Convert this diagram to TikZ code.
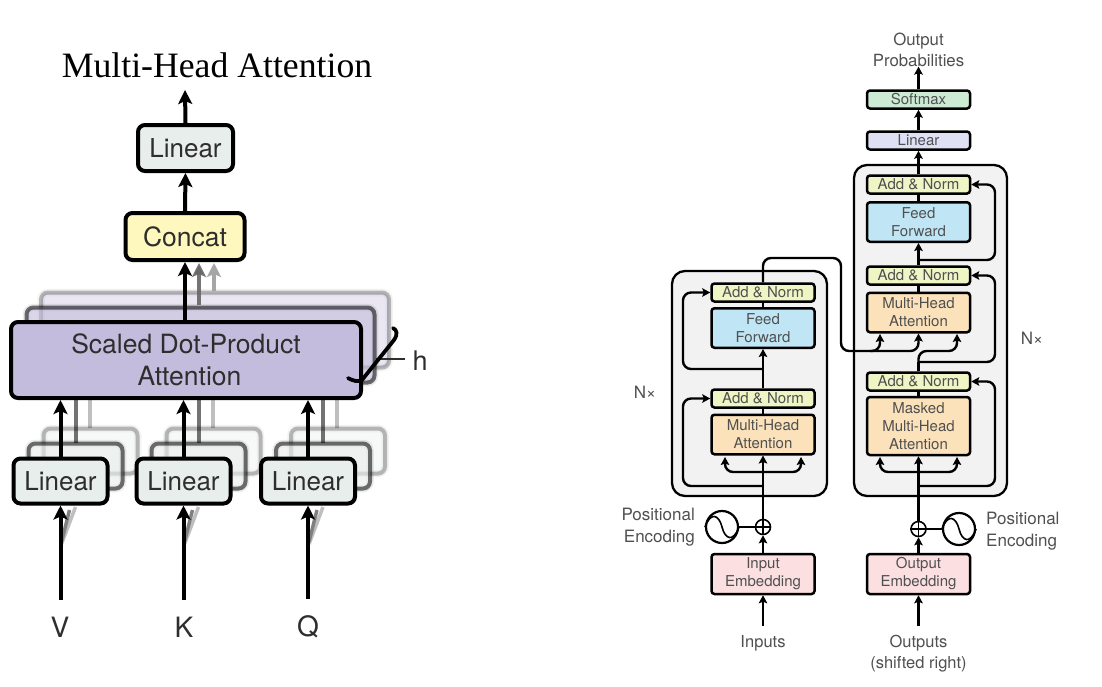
\documentclass[tikz,border=0pt]{standalone}
\usepackage{fontspec}
\setmainfont{TeX Gyre Heros}
\newfontfamily\titlefont{Liberation Serif}
\usetikzlibrary{arrows.meta}
\definecolor{txtL}{HTML}{2E2E2E}
\definecolor{txtR}{HTML}{505050}
\definecolor{cLin}{HTML}{E8EEEC}
\definecolor{cCon}{HTML}{FFF8BE}
\definecolor{cSdp}{HTML}{C4BCDC}
\definecolor{cAdd}{HTML}{F0F5C6}
\definecolor{cFF}{HTML}{C0E6F6}
\definecolor{cMH}{HTML}{FBE2BB}
\definecolor{cEmb}{HTML}{FBDFE1}
\definecolor{cSoft}{HTML}{CDEBD4}
\definecolor{cLinR}{HTML}{DFE0F3}
\definecolor{cBlock}{HTML}{F2F2F2}
\tikzset{
  lbox/.style={draw=black,line width=4pt,rounded corners=7pt,inner sep=0pt,text=txtL,align=center},
  linbox/.style={lbox,fill=cLin,minimum width=94pt,minimum height=45pt,font=\fontsize{26}{30}\selectfont},
  shad/.style={draw=black,rounded corners=7pt,line width=4pt,inner sep=0pt},
  mid/.style={shad,draw opacity=.55,fill opacity=.6,preaction={draw=black,line width=7.5pt,draw opacity=.08,fill opacity=0}},
  far/.style={shad,draw opacity=.25,fill opacity=.35,preaction={draw=black,line width=7.5pt,draw opacity=.05,fill opacity=0}},
  larrow/.style={line width=4pt,-{Stealth[length=14pt,width=14pt,inset=3pt]}},
  rbox/.style={draw=black,line width=2.5pt,rounded corners=3pt,inner sep=0pt,text=txtR,align=center,minimum width=103pt,
     font=\fontsize{15}{18}\selectfont},
  addbox/.style={rbox,fill=cAdd,minimum height=18pt},
  ffbox/.style={rbox,fill=cFF,minimum height=39.5pt},
  mhbox/.style={rbox,fill=cMH,minimum height=39.5pt},
  embbox/.style={rbox,fill=cEmb,minimum height=40pt},
  block/.style={draw=black,line width=2.3pt,fill=cBlock,rounded corners=13pt,inner sep=0pt},
  rline/.style={line width=2.4pt,rounded corners=8pt},
  rarrow/.style={rline,-{Stealth[length=8pt,width=8.5pt,inset=1.5pt]}},
  rlabel/.style={text=txtR,inner sep=0pt,align=center,font=\fontsize{16.5}{21}\selectfont},
  plab/.style={text=txtR,inner sep=0pt,font=\fontsize{17}{22}\selectfont},
  wavecirc/.style={circle,draw=black,line width=2.2pt,fill=white,minimum size=32pt,inner sep=0pt},
  pluscirc/.style={circle,draw=black,line width=1.6pt,fill=white,minimum size=15pt,inner sep=0pt},
  biglab/.style={text=txtL,inner sep=0pt,font=\fontsize{28}{32}\selectfont},
}
\begin{document}
\begin{tikzpicture}[x=1pt,y=-1pt]
\useasboundingbox (0,0) rectangle (1102,686);
\fill[white] (0,0) rectangle (1102,686);

% ---------- left: Multi-Head Attention
\node[inner sep=0pt,font=\titlefont\fontsize{35.7}{40}\selectfont] (title) at (217,65) {Multi-Head Attention};
\coordinate (topout) at (185,90);
\node[lbox,fill=cLin,minimum width=95pt,minimum height=46pt,font=\fontsize{26}{30}\selectfont] (lin) at (185.5,148) {Linear};
\node[lbox,fill=cCon,minimum width=119pt,minimum height=47pt,font=\fontsize{26.5}{30}\selectfont] (concat) at (185,236.5) {Concat};

% stacked attention
\node[far,draw=black,fill=cSdp,minimum width=348pt,minimum height=75pt] (sdp3) at (215,330) {};
\node[mid,draw=black,fill=cSdp,minimum width=348pt,minimum height=75pt] (sdp2) at (200.5,345) {};
\node[lbox,fill=cSdp,minimum width=350pt,minimum height=76pt,font=\fontsize{26.5}{32}\selectfont] (sdp) at (186,360) {Scaled Dot-Product\\\hspace*{7pt}Attention};

\foreach \n/\cx in {a/60.5,b/183.5,c/308}{
  \node[far,draw=black,fill=cLin,minimum width=94pt,minimum height=45pt] (\n3) at (\cx+30,451) {};
  \node[mid,draw=black,fill=cLin,minimum width=94pt,minimum height=45pt] (\n2) at (\cx+15,466) {};
}
\foreach \n/\cx in {a/60.5,b/183.5,c/308}{
  \draw[line width=4pt,black,opacity=.25] (\cx+29,428) -- (\cx+29,400);
  \draw[line width=4pt,black,opacity=.55] (\cx+15,443) -- (\cx+15,400);
}
\node[linbox] (l1) at (60.5,481) {Linear};
\node[linbox] (l2) at (183.5,481) {Linear};
\node[linbox] (l3) at (308,481) {Linear};

\draw[larrow] (lin.north) -- (topout);
\draw[larrow] (concat.north) -- (lin.south);
\draw[larrow] (sdp.north-|concat.south) -- (concat.south);
\draw[larrow,black!60,opacity=.9] (199,305) -- (199,263);
\draw[larrow,black!35] (214,291) -- (214,263);

\draw[larrow] (l1.north) -- (l1.north|-sdp.south);
\draw[larrow] (l2.north) -- (l2.north|-sdp.south);
\draw[larrow] (l3.north) -- (l3.north|-sdp.south);

\node[biglab] (v) at (60,627) {V};
\node[biglab] (k) at (184,627) {K};
\node[biglab] (q) at (308,627) {Q};
\foreach \cx in {60.5,183.5,308}{
  \draw[line width=3.5pt,black!25] (\cx+1,544) -- (\cx+15,507);
  \draw[line width=3.5pt,black!50] (\cx+1,542) -- (\cx+9,510);
}
\draw[larrow] (v.north-|l1.south) ++(0,-17) -- (l1.south);
\draw[larrow] (k.north-|l2.south) ++(0,-17) -- (l2.south);
\draw[larrow] (q.north-|l3.south) ++(0,-17) -- (l3.south);

% brace and h
\node[biglab,font=\fontsize{27}{32}\selectfont] (h) at (420,361) {h};
\coordinate (hstart) at (376,359);
\coordinate (hend) at (405,359);
\draw[line width=2.2pt,txtL] (hstart) -- (hend);
\draw[line width=3.8pt,line cap=round,black] (348,378) .. controls (353,381) and (358,382) .. (362,380)
   -- (394,340) .. controls (398,334) and (397,330) .. (393,328);

% ---------- right: Transformer
\node[block,minimum width=155pt,minimum height=225pt] (enc) at (749.5,383.5) {};
\node[block,minimum width=153pt,minimum height=331pt] (dec) at (930.5,330.5) {};

% encoder
\node[addbox] (ean2) at (763,292.5) {Add \& Norm};
\node[ffbox] (eff) at (763,328) {Feed\\Forward};
\node[addbox] (ean1) at (763,398.5) {Add \& Norm};
\node[mhbox] (emh) at (763,434.5) {Multi-Head\\Attention};
\node[embbox] (eemb) at (763,574) {Input\\Embedding};
\node[pluscirc] (eplus) at (763,527) {};
\node[wavecirc] (ewave) at (722,527) {};
\coordinate (einl) at (725,457);
\coordinate (einr) at (801,457);
\coordinate (ebus) at (763,472);
\coordinate (eskip1) at (763,486);
\coordinate (eskip2) at (763,369);
\coordinate (einputs) at (763,626);

% decoder
\node[addbox] (dan3) at (918.5,184.5) {Add \& Norm};
\node[ffbox] (dff) at (918.5,222) {Feed\\Forward};
\node[addbox] (dan2) at (918.5,275.5) {Add \& Norm};
\node[mhbox] (dmh) at (918.5,312.5) {Multi-Head\\Attention};
\node[addbox] (dan1) at (918.5,381.5) {Add \& Norm};
\node[rbox,fill=cMH,minimum height=58pt] (dmm) at (918.5,426) {Masked\\Multi-Head\\Attention};
\node[embbox] (demb) at (918.5,574) {Output\\Embedding};
\node[pluscirc] (dplus) at (918.5,529) {};
\node[wavecirc] (dwave) at (959,529) {};
\node[rbox,fill=cLinR,minimum height=18pt] (dlin) at (918.5,140.5) {Linear};
\node[rbox,fill=cSoft,minimum height=18pt] (dsoft) at (918.5,99.5) {Softmax};
\coordinate (dinl) at (880,457);
\coordinate (dinr) at (957,457);
\coordinate (dbus) at (918.5,472);
\coordinate (dskip1) at (918.5,486);
\coordinate (dskip2) at (918.5,362);
\coordinate (dskip3) at (918.5,260);
\coordinate (xinl) at (880,334);
\coordinate (xinr) at (957,334);
\coordinate (xjoin) at (918.5,351);
\coordinate (doutputs) at (918.5,626);

% encoder wiring
\draw[rarrow] (eemb.north) -- (eplus.south);
\draw[rarrow] (eplus.north) -- (emh.south);
\draw[rline] (ewave.east) -- (eplus.west);
\draw[rline] (emh.north) -- (ean1.south);
\draw[rarrow] (ean1.north) -- (eff.south);
\draw[rline] (eff.north) -- (ean2.south);
\draw[rarrow] (eskip1) -| (683,398.5) -- (ean1.west);
\draw[rarrow] (eskip2) -| (683,292.5) -- (ean2.west);
\draw[rarrow] (ebus) -| (einl);
\draw[rarrow] (ebus) -| (einr);
\draw[rarrow] (einputs) -- (eemb.south);
\draw[rarrow] (ean2.north) -- (763,258) -- (841,258) -- (841,351) -- (880,351) -- (xinl);
\draw[rarrow] (870,351) -- (918.5,351) -- (dmh.south);

% decoder wiring
\draw[rarrow] (demb.north) -- (dplus.south);
\draw[rarrow] (dplus.north) -- (dmm.south);
\draw[rline] (dwave.west) -- (dplus.east);
\draw[rline] (dmm.north) -- (dan1.south);
\draw[rline] (dan1.north) -- (dskip2);
\draw[rarrow] (dskip1) -| (995,381.5) -- (dan1.east);
\draw[rarrow] (dskip2) -| (995,275.5) -- (dan2.east);
\draw[rarrow] (dskip3) -| (995,184.5) -- (dan3.east);
\draw[rarrow] (dbus) -| (dinl);
\draw[rarrow] (dbus) -| (dinr);
\draw[rarrow] (dskip2) -- (xjoin) -- (957,351) -- (xinr);
\draw[rline] (dmh.north) -- (dan2.south);
\draw[rarrow] (dan2.north) -- (dff.south);
\draw[rline] (dff.north) -- (dan3.south);
\draw[rarrow] (dan3.north) -- (dlin.south);
\draw[rarrow] (dlin.north) -- (dsoft.south);
\draw[rarrow] (doutputs) -- (demb.south);

% plus and sine glyphs
\draw[line width=1.2pt] (eplus.north) -- (eplus.south) (eplus.west) -- (eplus.east);
\draw[line width=1.2pt] (dplus.north) -- (dplus.south) (dplus.west) -- (dplus.east);
\draw[line width=1.6pt] (ewave.west) .. controls (711,511) and (719,515) .. (722,527) .. controls (725,539) and (733,543) .. (ewave.east);
\draw[line width=1.6pt] (dwave.west) .. controls (948,513) and (956,517) .. (959,529) .. controls (962,541) and (970,545) .. (dwave.east);

% labels
\node[rlabel,font=\fontsize{16.8}{21}\selectfont] (outprob) at (918.5,49.5) {Output\\Probabilities};
\draw[rarrow] (dsoft.north) -- (outprob.south);
\node[plab,align=right,anchor=east] (pe1) at (695,527) {Positional\\Encoding};
\node[plab,align=left,anchor=west] (pe2) at (986,531) {Positional\\Encoding};
\node[rlabel] (inl) at (763,643) {Inputs};
\node[rlabel] (outl) at (918.5,653.5) {Outputs\\(shifted right)};
\node[plab] (nx1) at (645,392) {N×};
\node[plab] (nx2) at (1032,338) {N×};
\end{tikzpicture}
\end{document}
